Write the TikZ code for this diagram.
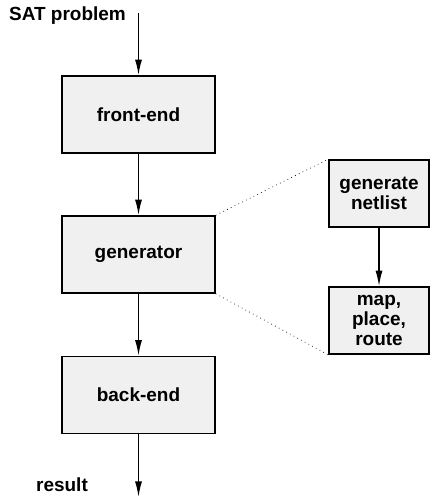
\documentclass[tikz,border=0pt]{standalone}
\usepackage{fontspec}
\setmainfont{Liberation Sans}
\usepackage{xcolor}
\usetikzlibrary{arrows.meta}
\definecolor{boxgray}{HTML}{F0F0F0}

\begin{document}
\begin{tikzpicture}[
        stage/.style={rectangle,draw,line width=0.9pt,fill=boxgray,
                      minimum width=3.06cm,minimum height=1.54cm,
                      align=center,font=\fontsize{10.8}{11.5}\selectfont\bfseries},
        substage/.style={stage,minimum width=2.0cm,minimum height=1.34cm},
        flow/.style={-{Latex[length=3.1mm,width=1.4mm]},line width=0.8pt},
        label/.style={font=\fontsize{10.8}{11.5}\selectfont\bfseries,inner sep=1pt}]
      \useasboundingbox (0,0) rectangle (8.6,9.94);
      \node[stage]    (front) at (2.77,7.65) {front-end};
      \node[stage]    (gen)   at (2.77,4.85) {generator};
      \node[stage]    (back)  at (2.77,2.04) {back-end};
      \node[substage] (net)   at (7.58,6.07) {generate\\netlist};
      \node[substage] (map)   at (7.58,3.53) {map,\\place,\\route};
      \coordinate (in)  at (2.77,9.68);
      \coordinate (out) at (2.77,0.0);
      \node[label] at (1.35,9.62) {SAT problem};
      \node[label] at (1.24,0.24) {result};
      \draw[flow] (in)    -- (front);
      \draw[flow] (front) -- (gen);
      \draw[flow] (gen)   -- (back);
      \draw[flow] (back)  -- (out);
      \draw[flow] (net)   -- (map);
      \draw[dotted] (gen.north east) -- (net.north west);
      \draw[dotted] (gen.south east) -- (map.south west);
    \end{tikzpicture}
\end{document}
